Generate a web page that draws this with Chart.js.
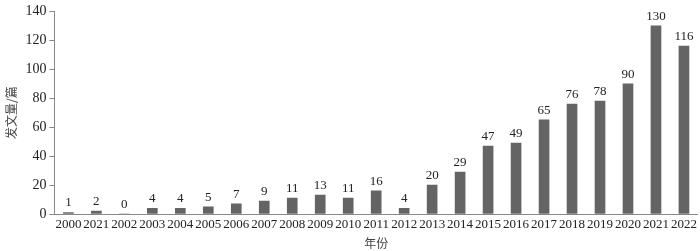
<!DOCTYPE html>
<html>
<head>
<meta charset="utf-8">
<script src="https://cdn.jsdelivr.net/npm/chart.js@4"></script>
<style>
  html, body { margin: 0; padding: 0; background: #fff; }
  #wrap { width: 700px; height: 251px; }
</style>
</head>
<body>
<div id="wrap"><canvas id="chart-id" width="700" height="251"></canvas></div>
<script>
'use strict';

var years = ['2000', '2021', '2002', '2003', '2004', '2005', '2006', '2007', '2008', '2009', '2010', '2011',
  '2012', '2013', '2014', '2015', '2016', '2017', '2018', '2019', '2020', '2021', '2022'];
var counts = [1, 2, 0, 4, 4, 5, 7, 9, 11, 13, 11, 16, 4, 20, 29, 47, 49, 65, 76, 78, 90, 130, 116];
var yTicks = [0, 20, 40, 60, 80, 100, 120, 140];

var serif = '"Liberation Serif", "Times New Roman", serif';
var cjk = '"Noto Sans CJK SC", sans-serif';

// draw the number above each bar
var valueLabels = {
  id: 'valueLabels',
  afterDatasetsDraw: function(chart){
    var ctx = chart.ctx;
    var meta = chart.getDatasetMeta(0);
    ctx.save();
    ctx.font = '13px ' + serif;
    ctx.fillStyle = '#222';
    ctx.textAlign = 'center';
    ctx.textBaseline = 'bottom';
    for(var i = 0; i < meta.data.length; i++){
      var bar = meta.data[i];
      ctx.fillText(String(counts[i]), bar.x, bar.y - 3);
    }
    ctx.restore();
  }
};

var ctx = document.getElementById('chart-id').getContext('2d');
var chart = new Chart(ctx, {
  type: 'bar',
  data: {
    labels: years,
    datasets: [{
      data: counts,
      backgroundColor: '#646464',
      barThickness: 10
    }]
  },
  options: {
    responsive: false,
    animation: false,
    layout: { padding: { top: 8, right: 2, left: 4, bottom: 0 } },
    plugins: {
      legend: { display: false },
      tooltip: { enabled: false }
    },
    scales: {
      x: {
        grid: { display: false, drawTicks: false },
        border: { color: '#888', width: 1 },
        ticks: {
          color: '#222',
          font: { family: serif, size: 13 },
          maxRotation: 0,
          autoSkip: false,
          padding: 3
        },
        title: {
          display: true,
          text: '年份',
          color: '#444',
          font: { family: cjk, size: 12 },
          padding: { top: 1, bottom: 0 }
        }
      },
      y: {
        min: 0,
        max: 140,
        afterBuildTicks: function(axis){
          axis.ticks = yTicks.map(function(v){ return { value: v }; });
        },
        grid: { display: true, drawOnChartArea: false, drawTicks: true, tickLength: 5, color: '#888' },
        border: { color: '#888', width: 1 },
        ticks: {
          color: '#222',
          font: { family: serif, size: 14 },
          padding: 3
        },
        title: {
          display: true,
          text: '发文量/篇',
          color: '#444',
          font: { family: cjk, size: 12 },
          padding: { top: 0, bottom: 4 }
        }
      }
    }
  },
  plugins: [valueLabels]
});
</script>
</body>
</html>
